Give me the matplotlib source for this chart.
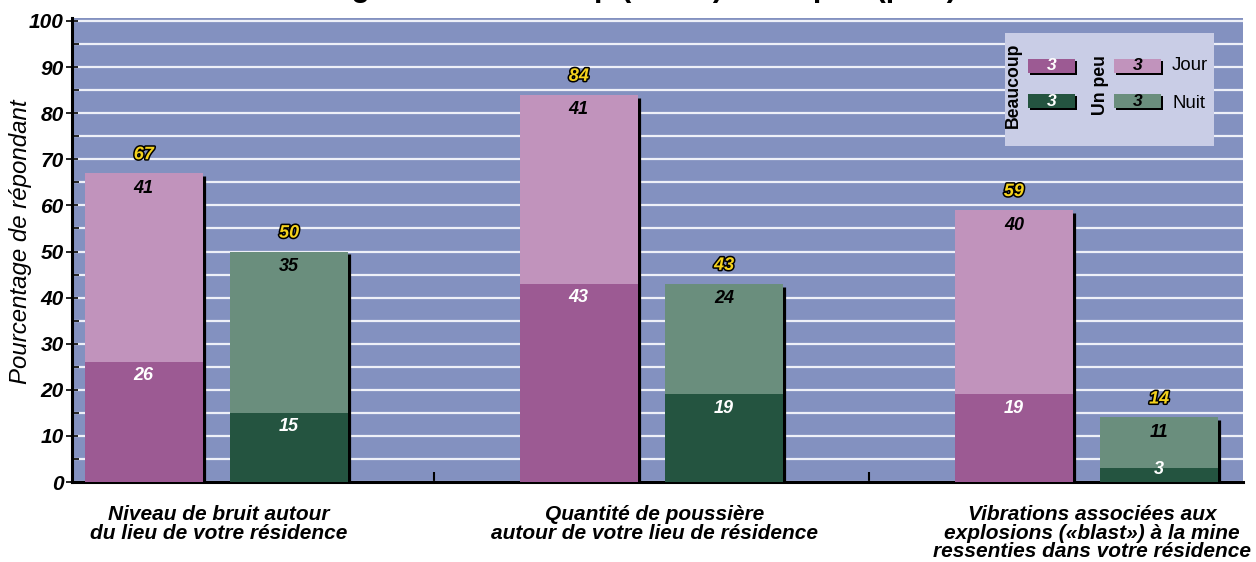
import matplotlib.pyplot as plt
import matplotlib.patheffects as pe
from matplotlib.patches import Rectangle
from matplotlib.ticker import MultipleLocator

plt.rcParams['font.family'] = ['Liberation Sans', 'DejaVu Sans']

# Données
categories = ["Niveau de bruit autour\ndu lieu de votre résidence",
              "Quantité de poussière\nautour de votre lieu de résidence",
              "Vibrations associées aux\nexplosions («blast») à la mine\nressenties dans votre résidence"]
jour_beaucoup = [26, 43, 19]
jour_un_peu = [41, 41, 40]
nuit_beaucoup = [15, 19, 3]
nuit_un_peu = [35, 24, 11]
jour_total = [67, 84, 59]
nuit_total = [50, 43, 14]

# Couleurs
fond = '#8391c0'
violet_fonce = '#9c5a93'
violet_pale = '#c193bc'
vert_fonce = '#245440'
vert_pale = '#6a8e7d'

fig = plt.figure(figsize=(12.56, 5.62), dpi=100)
ax = fig.add_axes([0.0573, 0.1423, 0.9324, 0.8257])
ax.set_facecolor(fond)

x = list(range(len(categories)))
w = 0.271
dx = 0.167

ax.set_xlim(-0.332, 2.36)
ax.set_ylim(0, 100.65)

# lignes de grille blanches tous les 5 %
ax.yaxis.set_major_locator(MultipleLocator(10))
ax.yaxis.set_minor_locator(MultipleLocator(5))
ax.grid(axis='y', which='both', color='#eef0f8', linewidth=1.6)
ax.set_axisbelow(True)


def barres(xs, bas, haut, total, c_bas, c_haut):
    ax.bar(xs, bas, w, color=c_bas, zorder=3)
    ax.bar(xs, haut, w, bottom=bas, color=c_haut, zorder=3)
    # ombre noire à droite
    for xi, t in zip(xs, total):
        ax.vlines(xi + w / 2 + 0.003, 0, t - 0.6, color='black', lw=2.3, zorder=2.5)
    for xi, b, h, t in zip(xs, bas, haut, total):
        ax.text(xi, max(b - 3, 2.8), str(b), ha='center', va='center', color='white',
                fontsize=13, fontweight='bold', fontstyle='italic', zorder=5)
        ax.text(xi, t - 3.3, str(h), ha='center', va='center', color='black',
                fontsize=13, fontweight='bold', fontstyle='italic', zorder=5)
        ax.text(xi, t + 4, str(t), ha='center', va='center', color='#f5d21c',
                fontsize=13, fontweight='bold', fontstyle='italic', zorder=5,
                path_effects=[pe.withStroke(linewidth=2.2, foreground='black')])


barres([xi - dx for xi in x], jour_beaucoup, jour_un_peu, jour_total, violet_fonce, violet_pale)
barres([xi + dx for xi in x], nuit_beaucoup, nuit_un_peu, nuit_total, vert_fonce, vert_pale)

# axes
for s in ['top', 'right']:
    ax.spines[s].set_visible(False)
ax.spines['left'].set_linewidth(2.2)
ax.spines['bottom'].set_linewidth(2.2)
ax.tick_params(axis='y', which='major', direction='inout', length=8, width=1.2,
               labelsize=15, pad=2)
ax.tick_params(axis='y', which='minor', direction='in', length=5, width=1.2)
for lab in ax.get_yticklabels():
    lab.set_fontweight('bold')
    lab.set_fontstyle('italic')
ax.set_xticks([0.5, 1.5])
ax.set_xticklabels([])
ax.tick_params(axis='x', direction='in', length=7, width=1.5)

ax.set_ylabel('Pourcentage de répondant', fontsize=17.3, fontstyle='italic')
ax.yaxis.set_label_coords(-0.034, 0.517)

decalage = [0.005, 0.007, 0.013]
for xi, cat, d in zip(x, categories, decalage):
    ax.text(xi + d, -5.0, cat, ha='center', va='top', fontsize=15,
            fontweight='bold', fontstyle='italic', linespacing=0.98,
            transform=ax.transData, clip_on=False)

# légende dessinée à la main
ax.add_patch(Rectangle((0.797, 0.724), 0.178, 0.244, transform=ax.transAxes,
                       facecolor='#c9cde6', edgecolor='none', zorder=4))
leg = [(0.8164, 0.8815, violet_fonce, 'white'), (0.8164, 0.806, vert_fonce, 'white'),
       (0.8898, 0.8815, violet_pale, 'black'), (0.8898, 0.806, vert_pale, 'black')]
for lx, ly, c, tc in leg:
    ax.add_patch(Rectangle((lx + 0.0018, ly - 0.0045), 0.0401, 0.0302, transform=ax.transAxes,
                           facecolor='black', edgecolor='none', zorder=4.5))
    ax.add_patch(Rectangle((lx, ly), 0.0401, 0.0302, transform=ax.transAxes,
                           facecolor=c, edgecolor='none', zorder=5))
    ax.text(lx + 0.02, ly + 0.0151, '3', transform=ax.transAxes, ha='center', va='center',
            color=tc, fontsize=12.5, fontweight='bold', fontstyle='italic', zorder=6)
ax.text(0.8036, 0.8556, 'Beaucoup', transform=ax.transAxes, rotation=90, ha='center',
        va='center', fontsize=12.7, fontweight='bold', zorder=6)
ax.text(0.8779, 0.8556, 'Un peu', transform=ax.transAxes, rotation=90, ha='center',
        va='center', fontsize=12.7, fontweight='bold', zorder=6)
ax.text(0.9394, 0.8966, 'Jour', transform=ax.transAxes, ha='left', va='center',
        fontsize=13.4, zorder=6)
ax.text(0.9394, 0.8147, 'Nuit', transform=ax.transAxes, ha='left', va='center',
        fontsize=13.4, zorder=6)

# titre coupé en haut de l'image (seuls les jambages dépassent)
fig.text(0.4865, 1 + 4 / 562, 'Dérangement beaucoup (foncé) et un peu (pâle)',
         ha='center', va='baseline', fontsize=22, fontweight='bold')

fig.savefig('out.png', dpi=100)
